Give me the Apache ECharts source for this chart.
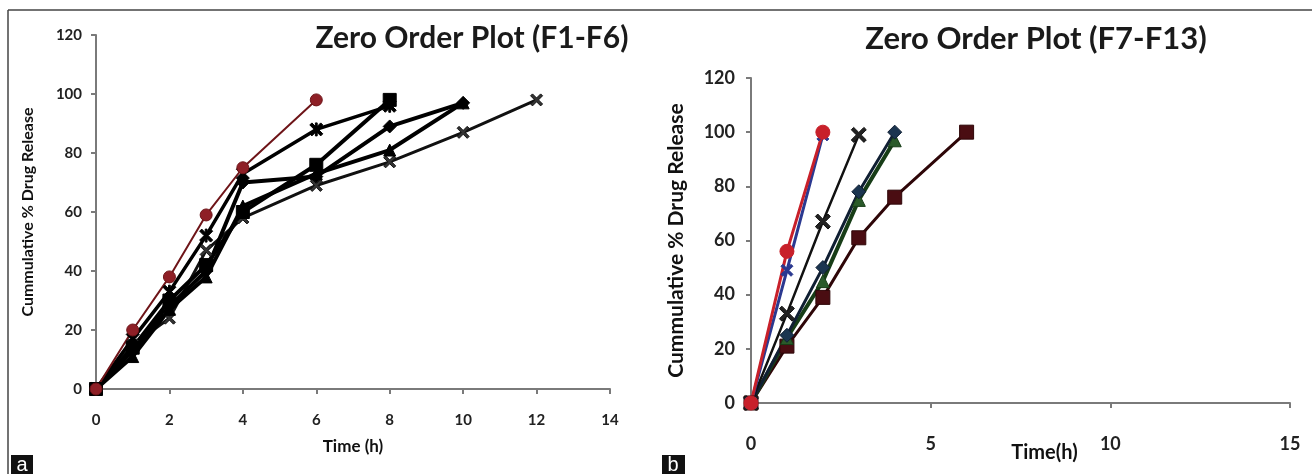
<!DOCTYPE html>
<html>
<head>
<meta charset="utf-8">
<script src="https://cdn.jsdelivr.net/npm/echarts@6/dist/echarts.min.js"></script>
<style>
html,body{margin:0;padding:0;background:#fff;}
#chart{width:1312px;height:474px;}
</style>
</head>
<body>
<div id="chart"></div>
<script>
// ---- Text ----
const titleA = 'Zero Order Plot (F1-F6)';
const titleB = 'Zero Order Plot (F7-F13)';
const yAxisName = 'Cummulative % Drug Release';
const xNameA = 'Time (h)';
const xNameB = 'Time(h)';

// ---- Data (panel a: F1-F6), [time h, % released] ----
const F1 = [[0,0],[1,20],[2,38],[3,59],[4,75],[6,98]];
const F2 = [[0,0],[1,17],[2,33],[3,52],[4,73],[6,88],[8,96]];
const F3 = [[0,0],[1,14],[2,30],[3,42],[4,60],[6,76],[8,98]];
const F4 = [[0,0],[1,13],[2,28],[3,40],[4,70],[6,72],[8,89],[10,97]];
const F5 = [[0,0],[1,11],[2,27],[3,38],[4,62],[6,73],[8,81],[10,97]];
const F6 = [[0,0],[1,15],[2,24],[3,47],[4,58],[6,69],[8,77],[10,87],[12,98]];

// ---- Data (panel b: F7-F13) ----
const F7  = [[0,0],[1,56],[2,100]];
const F8  = [[0,0],[1,49],[2,99]];
const F9  = [[0,0],[1,33],[2,67],[3,99]];
const F10 = [[0,0],[1,25],[2,50],[3,78],[4,100]];
const F11 = [[0,0],[1,24],[2,45],[3,75],[4,97]];
const F12 = [[0,0],[1,21],[2,39],[3,61],[4,76],[6,100]];

const CROSS = 'path://M0,1.6L1.6,0L5,3.4L8.4,0L10,1.6L6.6,5L10,8.4L8.4,10L5,6.6L1.6,10L0,8.4L3.4,5Z';
const STAR = 'path://M0,1.6L1.6,0L5,3.4L8.4,0L10,1.6L6.6,5L10,8.4L8.4,10L5,6.6L1.6,10L0,8.4L3.4,5Z M4.3,0L5.7,0L5.7,10L4.3,10Z';

const FONT = 'Lato, "Open Sans", sans-serif';
const axisLine = {show:true, lineStyle:{color:'#7a7a7a', width:2}};
const axisTick = {show:true, inside:false, length:5, lineStyle:{color:'#7a7a7a', width:2}};

function ser(name, data, xi, color, lw, sym, size, fill) {
  return {
    name, type:'line', xAxisIndex:xi, yAxisIndex:xi, data,
    symbol:sym, symbolSize:size, showSymbol:true,
    lineStyle:{color:color, width:lw},
    itemStyle:{color:fill || color, borderColor:color, borderWidth:1},
    animation:false, z:3
  };
}

const chart = echarts.init(document.getElementById('chart'), null, {renderer:'canvas'});
chart.setOption({
  backgroundColor:'#ffffff',
  animation:false,
  title:[
    {text:titleA, left:467, top:18, textAlign:'center',
     textStyle:{fontFamily:FONT, fontWeight:'bold', fontSize:30, color:'#1a1a1a'}},
    {text:titleB, left:1031, top:18, textAlign:'center',
     textStyle:{fontFamily:FONT, fontWeight:'bold', fontSize:31, color:'#1a1a1a'}}
  ],
  grid:[
    {left:96, top:35, width:514, height:354, containLabel:false, outerBoundsMode:'none'},
    {left:751, top:78, width:539, height:325, containLabel:false, outerBoundsMode:'none'}
  ],
  xAxis:[
    {gridIndex:0, type:'value', min:0, max:14, interval:2,
     axisLine, axisTick, splitLine:{show:false},
     axisLabel:{margin:24, fontFamily:FONT, fontWeight:'bold', fontSize:15, color:'#222'},
     name:xNameA, nameLocation:'middle', nameGap:49, nameMoveOverlap:false,
     nameTextStyle:{fontFamily:FONT, fontWeight:'bold', fontSize:17, color:'#111'}},
    {gridIndex:1, type:'value', min:0, max:15, interval:5,
     axisLine, axisTick, splitLine:{show:false},
     axisLabel:{margin:32, fontFamily:FONT, fontWeight:'bold', fontSize:18, color:'#222'},
     name:xNameB, nameLocation:'middle', nameGap:40, nameMoveOverlap:false,
     nameTextStyle:{fontFamily:FONT, fontWeight:'bold', fontSize:20, color:'#111', padding:[0,0,0,48]}}
  ],
  yAxis:[
    {gridIndex:0, type:'value', min:0, max:120, interval:20,
     axisLine, axisTick, splitLine:{show:false},
     axisLabel:{margin:14, fontFamily:FONT, fontWeight:'bold', fontSize:15, color:'#222'},
     name:yAxisName, nameLocation:'middle', nameGap:60, nameRotate:90, nameMoveOverlap:false,
     nameTextStyle:{fontFamily:FONT, fontWeight:'bold', fontSize:16, color:'#111'}},
    {gridIndex:1, type:'value', min:0, max:120, interval:20,
     axisLine, axisTick, splitLine:{show:false},
     axisLabel:{margin:16, fontFamily:FONT, fontWeight:'bold', fontSize:18, color:'#222'},
     name:yAxisName, nameLocation:'middle', nameGap:64, nameRotate:90, nameMoveOverlap:false,
     nameTextStyle:{fontFamily:FONT, fontWeight:'bold', fontSize:21, color:'#111'}}
  ],
  series:[
    ser('F6', F6, 0, '#111', 3, CROSS, 12, '#333'),
    ser('F5', F5, 0, '#000', 4, 'triangle', 12),
    ser('F4', F4, 0, '#000', 4, 'diamond', 13),
    ser('F3', F3, 0, '#000', 4, 'rect', 13),
    ser('F2', F2, 0, '#000', 3.5, STAR, 13),
    ser('F1', F1, 0, '#6e1418', 2, 'circle', 12, '#8e1f26'),
    ser('F12', F12, 1, '#2e0608', 3, 'rect', 14, '#4a0d12'),
    ser('F11', F11, 1, '#173d17', 4, 'triangle', 13, '#2a5a2a'),
    ser('F10', F10, 1, '#101f33', 3, 'diamond', 14, '#1b3550'),
    ser('F9', F9, 1, '#111', 2.5, CROSS, 15, '#222'),
    ser('F8', F8, 1, '#2b3990', 3, CROSS, 12, '#2b3990'),
    ser('F7', F7, 1, '#c8202a', 3, 'circle', 14, '#c8202a')
  ],
  graphic:[
    {type:'line', shape:{x1:8, y1:10, x2:1312, y2:10}, style:{stroke:'#444', lineWidth:1.5}, silent:true},
    {type:'line', shape:{x1:8, y1:10, x2:8, y2:474}, style:{stroke:'#444', lineWidth:1.5}, silent:true},
    {type:'rect', shape:{x:11, y:455, width:22, height:19}, style:{fill:'#111'}, silent:true},
    {type:'text', x:22, y:465, style:{text:'a', fill:'#fff', font:'20px "Liberation Sans", Arial, sans-serif', textAlign:'center', textVerticalAlign:'middle'}, silent:true},
    {type:'rect', shape:{x:662, y:455, width:23, height:19}, style:{fill:'#111'}, silent:true},
    {type:'text', x:673, y:465, style:{text:'b', fill:'#fff', font:'20px "Liberation Sans", Arial, sans-serif', textAlign:'center', textVerticalAlign:'middle'}, silent:true}
  ]
});
</script>
</body>
</html>
